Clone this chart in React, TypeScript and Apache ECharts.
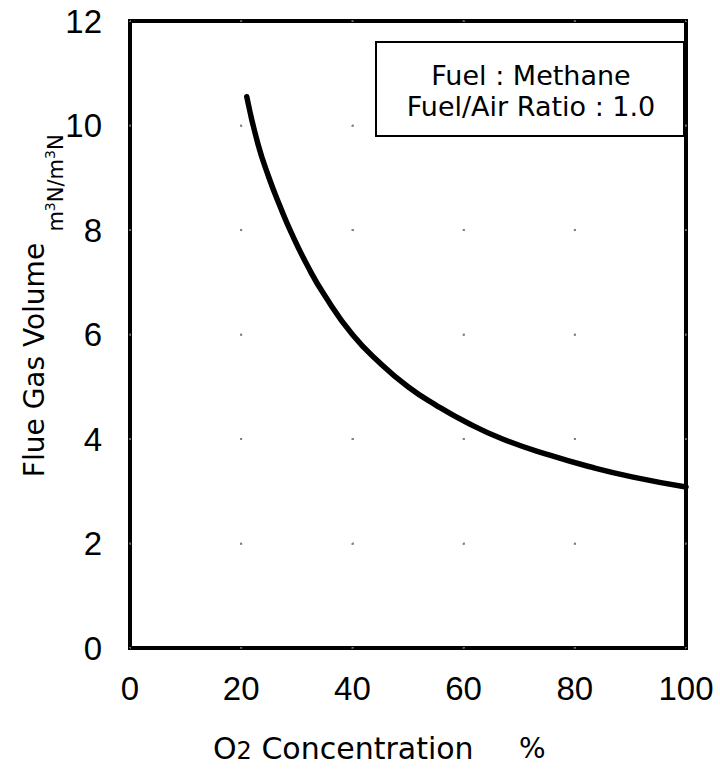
import React, { useEffect, useRef } from "react";
import * as echarts from "echarts";

const o2Concentration = [21, 23, 25, 27, 29, 32, 35, 40, 45, 50, 55, 60.5, 67, 75.5, 83, 90.5, 100];
const flueGasVolume = [10.55, 9.65, 9.0, 8.45, 7.95, 7.3, 6.75, 6.0, 5.45, 5.0, 4.65, 4.32, 4.0, 3.69, 3.46, 3.27, 3.08];
const xTicks = [0, 20, 40, 60, 80, 100];
const yTicks = [0, 2, 4, 6, 8, 10, 12];
const noteLines = ["Fuel : Methane", "Fuel/Air Ratio : 1.0"];

const TICK_FONT = "'Liberation Sans', Arial, sans-serif";
const FONT = "'DejaVu Sans', sans-serif";

export default function App() {
  const ref = useRef<HTMLDivElement>(null);
  useEffect(() => {
    if (!ref.current) return;
    const chart = echarts.init(ref.current, null, { renderer: "svg" });
    const data = o2Concentration.map((x, i) => [x, flueGasVolume[i]]);
    chart.setOption({
      animation: false,
      backgroundColor: "#fff",
      grid: {
        left: 130,
        right: 34,
        top: 21,
        bottom: 122,
        show: true,
        borderColor: "#000",
        borderWidth: 4,
        backgroundColor: "transparent",
      },
      xAxis: {
        type: "value",
        min: xTicks[0],
        max: xTicks[xTicks.length - 1],
        interval: 20,
        axisLine: { show: false },
        axisTick: { show: false },
        axisLabel: {
          color: "#000",
          fontSize: 33,
          fontFamily: TICK_FONT,
          margin: 24,
          formatter: (v: number) => (xTicks.includes(v) ? String(v) : ""),
        },
        splitLine: {
          show: true,
          lineStyle: { color: "#777", width: 1.5, type: [2, 102.5], dashOffset: 1 },
        },
      },
      yAxis: {
        type: "value",
        min: yTicks[0],
        max: yTicks[yTicks.length - 1],
        interval: 2,
        axisLine: { show: false },
        axisTick: { show: false },
        axisLabel: {
          color: "#000",
          fontSize: 33,
          fontFamily: TICK_FONT,
          margin: 28,
          formatter: (v: number) => (yTicks.includes(v) ? String(v) : ""),
        },
        splitLine: {
          show: true,
          lineStyle: { color: "#777", width: 1.5, type: [2, 109.2], dashOffset: 1 },
        },
      },
      series: [
        {
          type: "line",
          data,
          smooth: 0.5,
          showSymbol: false,
          lineStyle: { color: "#000", width: 5.5, cap: "round", join: "round" },
          z: 5,
        },
      ],
      graphic: [
        {
          type: "rect",
          shape: { x: 376, y: 42, width: 308, height: 94 },
          style: { fill: "#fff", stroke: "#000", lineWidth: 2 },
          z: 10,
        },
        {
          type: "text",
          x: 531,
          y: 75,
          style: {
            text: noteLines[0],
            font: `27px ${FONT}`,
            fill: "#000",
            textAlign: "center",
            textVerticalAlign: "middle",
          },
          z: 11,
        },
        {
          type: "text",
          x: 531,
          y: 106,
          style: {
            text: noteLines[1],
            font: `27px ${FONT}`,
            fill: "#000",
            textAlign: "center",
            textVerticalAlign: "middle",
          },
          z: 11,
        },
        {
          type: "text",
          x: 34,
          y: 360,
          rotation: Math.PI / 2,
          style: {
            text: "Flue Gas Volume",
            font: `28px ${FONT}`,
            fill: "#000",
            textAlign: "center",
            textVerticalAlign: "middle",
          },
        },
        {
          type: "text",
          x: 56,
          y: 183,
          rotation: Math.PI / 2,
          style: {
            text: "m{s|3}N/m{s|3}N",
            font: `21px ${FONT}`,
            fill: "#000",
            textAlign: "center",
            textVerticalAlign: "middle",
            rich: {
              s: { fontSize: 14, fontFamily: FONT, padding: [0, 0, 12, 0] },
            },
          },
        },
        {
          type: "text",
          x: 213,
          y: 748,
          style: {
            text: "O{s|2} Concentration",
            font: `30px ${FONT}`,
            fill: "#000",
            textAlign: "left",
            textVerticalAlign: "middle",
            rich: {
              s: { fontSize: 24, fontFamily: FONT, padding: [6, 0, 0, 0] },
            },
          },
        },
        {
          type: "text",
          x: 519,
          y: 748,
          style: {
            text: "%",
            font: `28px ${FONT}`,
            fill: "#000",
            textAlign: "left",
            textVerticalAlign: "middle",
          },
        },
      ],
    });
    return () => chart.dispose();
  }, []);
  return (
    <div
      ref={ref}
      style={{ position: "fixed", left: 0, top: 0, width: 720, height: 770, background: "#fff" }}
    />
  );
}
